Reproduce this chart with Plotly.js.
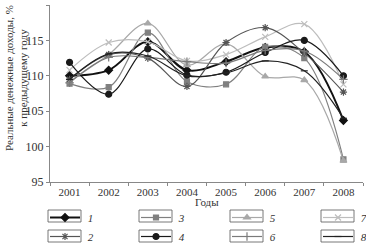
<!DOCTYPE html>
<html>
<head>
<meta charset="utf-8">
<script src="https://cdn.plot.ly/plotly-3.0.1.min.js"></script>
<style>html,body{margin:0;padding:0;background:#fff}#chart{width:366px;height:243px}</style>
</head>
<body>
<div id="chart"></div>
<script>
var years = ["2001","2002","2003","2004","2005","2006","2007","2008"];
var seriesNames = ["1","2","3","4","5","6","7","8"];
var s1 = [110.0, 110.8, 114.8, 110.8, 112.0, 114.0, 113.4, 103.7];
var s2 = [109.5, 113.0, 112.5, 108.5, 114.7, 116.8, 113.2, 107.7];
var s3 = [108.9, 108.4, 116.1, 109.2, 108.8, 114.1, 112.5, 98.2];
var s4 = [111.9, 107.4, 113.8, 110.1, 110.5, 113.3, 115.0, 110.0];
var s5 = [109.2, 113.0, 117.4, 111.5, 114.5, 109.9, 109.4, 98.0];
var s6 = [109.0, 112.6, 112.6, 112.0, 111.8, 113.6, 113.5, 109.5];
var s7 = [110.8, 114.7, 114.8, 112.1, 113.0, 115.5, 117.3, 108.8];
var s8 = [109.5, 113.1, 112.8, 110.0, 110.4, 112.1, 110.7, 104.0];

var values = [s1, s2, s3, s4, s5, s6, s7, s8];
var styles = [
  {color:"#111111", width:2.0, symbol:"diamond", size:6},
  {color:"#555555", width:1.2, symbol:"asterisk-open", size:6},
  {color:"#808080", width:1.2, symbol:"square", size:5},
  {color:"#1a1a1a", width:1.2, symbol:"circle", size:6},
  {color:"#a8a8a8", width:1.2, symbol:"triangle-up", size:6},
  {color:"#7a7a7a", width:1.2, symbol:"cross-thin-open", size:6},
  {color:"#bdbdbd", width:1.2, symbol:"x-thin-open", size:6},
  {color:"#222222", width:1.2, symbol:"line-ew-open", size:5}
];
var order = [0,2,4,6,1,3,5,7];
var traces = order.map(function(i){
  var st = styles[i];
  return {
    x: years, y: values[i], type:"scatter", mode:"lines+markers",
    name: " " + seriesNames[i],
    line:{color:st.color, width:st.width, shape:"spline", smoothing:1},
    marker:{color:st.color, symbol:st.symbol, size:st.size, line:{color:st.color, width:1.2}}
  };
});

var serif = "Liberation Serif, DejaVu Serif, serif";
var legendLeft = 45;
var colStep = 91;
var legendX = [0,1,2,3].map(function(k){ return legendLeft + k*colStep; });
var legendY = [216, 236];
var shapes = [];
legendY.forEach(function(yy){
  legendX.forEach(function(xx){
    shapes.push({type:"rect", xref:"paper", yref:"paper",
      x0:(xx+3-50)/313, x1:(xx+36-50)/313,
      y0:(243-61-(yy+6))/177, y1:(243-61-(yy-6))/177,
      line:{color:"#555", width:0.8}, fillcolor:"rgba(0,0,0,0)"});
  });
});

var layout = {
  width:366, height:243,
  margin:{l:50, r:3, t:5, b:61, autoexpand:false},
  paper_bgcolor:"#fff", plot_bgcolor:"#fff",
  font:{family:serif, color:"#333", size:11},
  showlegend:true,
  legend:{orientation:"h", x:(legendLeft-50)/313, xanchor:"left", y:(243-61-(legendY[0]-13))/177, yanchor:"top",
    entrywidth:colStep-45, entrywidthmode:"pixels", traceorder:"normal",
    font:{family:serif, size:11, style:"italic", color:"#333"}, bgcolor:"rgba(0,0,0,0)", itemclick:false},
  xaxis:{type:"category", range:[-0.5,7.5], showgrid:false, zeroline:false,
    showline:true, linecolor:"#888", linewidth:1, ticks:"outside", tickson:"boundaries",
    ticklen:3, tickcolor:"#888", tickfont:{family:serif, size:11, color:"#333"}},
  yaxis:{range:[95,120], dtick:5, showgrid:false, zeroline:false,
    showline:true, linecolor:"#888", linewidth:1, ticks:"outside", ticklen:3, tickcolor:"#888",
    tickfont:{family:serif, size:12, color:"#333"}},
  shapes:shapes,
  annotations:[
    {xref:"paper", yref:"paper", x:-34/313, y:(182-78)/177, xanchor:"center", yanchor:"middle",
    textangle:-90, showarrow:false, align:"center",
    text:"Реальные денежные доходы, %<br>к предыдущему году",
    font:{family:serif, size:11, color:"#333"}},
    {xref:"paper", yref:"paper", x:0.5, y:(182-202)/177, xanchor:"center", yanchor:"middle",
    showarrow:false, text:"Годы", font:{family:serif, size:11, color:"#333"}}
  ]
};
Plotly.newPlot("chart", traces, layout, {staticPlot:true, displayModeBar:false});
</script>
</body>
</html>
